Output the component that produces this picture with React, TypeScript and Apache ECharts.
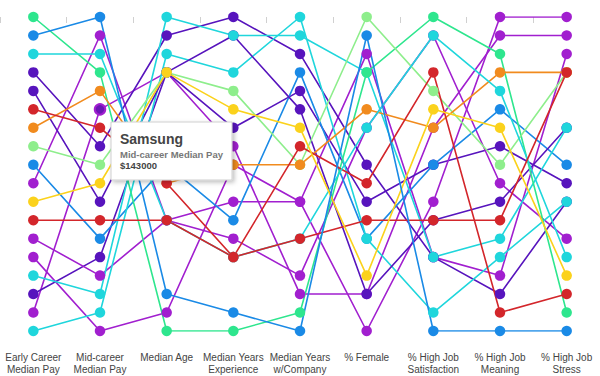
import { useEffect, useRef } from 'react';
import * as echarts from 'echarts';

const dimensions = [
  'Early Career\nMedian Pay',
  'Mid-career\nMedian Pay',
  'Median Age',
  'Median Years\nExperience',
  'Median Years\nw/Company',
  '% Female',
  '% High Job\nSatisfaction',
  '% High Job\nMeaning',
  '% High Job\nStress',
];

const companies = [
  'Company 1', 'Company 2', 'Company 3', 'Company 4', 'Company 5', 'Company 6',
  'Company 7', 'Company 8', 'Company 9', 'Company 10', 'Company 11', 'Company 12',
  'Company 13', 'Company 14', 'Company 15', 'Company 16', 'Samsung', 'Company 18',
];

const companyColors = [
  '#2ee68e', '#1a8ae6', '#1fd6dc', '#5714bd', '#5714bd', '#d3262b',
  '#f18b1e', '#8eee8c', '#1a8ae6', '#a11fcf', '#fbd21c', '#d3262b',
  '#a11fcf', '#a11fcf', '#1fd6dc', '#5714bd', '#a11fcf', '#1fd6dc',
];

// rank positions (0 = top row) of each company on each dimension
const earlyCareerRank = [0, 1, 2, 3, 4, 5, 6, 7, 8, 9, 10, 11, 12, 13, 14, 15, 16, 17];
const midCareerRank = [3, 0, 2, 7, 10, 6, 4, 8, 12, 1, 9, 11, 14, 17, 15, 13, 5, 16];
const medianAgeRank = [17, 15, 11, 1, 3, 9, 9, 3, 8, 11, 3, 11, 11, 16, 0, 3, 3, 2];
const yearsExperienceRank = [17, 16, 13, 0, 1, 13, 8, 4, 11, 12, 5, 13, 10, 8, 1, 6, 7, 3];
const yearsWithCompanyRank = [16, 17, 12, 2, 5, 7, 8, 8, 3, 14, 6, 12, 10, 10, 1, 4, 15, 0];
const femaleRank = [3, 1, 6, 8, 15, 9, 5, 0, 12, 6, 14, 11, 2, 17, 3, 10, 15, 12];
const satisfactionRank = [0, 17, 1, 13, 11, 3, 6, 4, 8, 1, 5, 11, 13, 10, 13, 8, 6, 16];
const meaningRank = [2, 17, 4, 15, 10, 16, 3, 8, 5, 9, 6, 11, 14, 0, 12, 7, 1, 13];
const stressRank = [16, 17, 13, 10, 6, 15, 3, 3, 8, 12, 14, 3, 2, 0, 6, 9, 1, 10];

const rankColumns = [
  earlyCareerRank, midCareerRank, medianAgeRank, yearsExperienceRank,
  yearsWithCompanyRank, femaleRank, satisfactionRank, meaningRank, stressRank,
];

// drawing order (later drawn on top)
const drawOrder = [16, 15, 13, 9, 12, 3, 8, 17, 4, 14, 0, 7, 6, 5, 2, 11, 10, 1];

const hoveredCompany = 16;
const hoveredDimension = 1;
const hoveredValue = 143000;

export default function App() {
  const ref = useRef<HTMLDivElement>(null);

  useEffect(() => {
    if (!ref.current) return;
    const chart = echarts.init(ref.current, undefined, { renderer: 'svg' });

    const lineSeries = drawOrder.map((c) => ({
      type: 'line',
      name: companies[c],
      data: rankColumns.map((col) => col[c]),
      symbol: 'none',
      silent: true,
      z: 2,
      lineStyle: { width: 1.6, color: companyColors[c] },
    }));

    const dotSeries = drawOrder.map((c) => ({
      type: 'scatter',
      name: companies[c] + ' points',
      symbol: 'circle',
      symbolSize: 10.5,
      z: 3,
      itemStyle: { color: companyColors[c], opacity: 1 },
      data: rankColumns.map((col, d) =>
        c === hoveredCompany && d === hoveredDimension
          ? {
              value: col[c],
              itemStyle: { color: '#6a16b4', borderColor: '#a11fcf', borderWidth: 2 },
            }
          : col[c]
      ),
    }));

    const tipTitle = companies[hoveredCompany];
    const tipLabel = dimensions[hoveredDimension].replace('\n', ' ');
    const tipValue = '$' + hoveredValue;

    chart.setOption({
      animation: false,
      grid: { left: -1.44, right: -0.44, top: 17, bottom: 44 },
      xAxis: {
        type: 'category',
        data: dimensions,
        boundaryGap: true,
        offset: 16,
        axisLine: { show: false },
        axisTick: { show: true, length: 6, lineStyle: { color: '#d0d0d0' } },
        axisLabel: {
          interval: 0,
          fontSize: 10,
          lineHeight: 12.5,
          margin: 4,
          color: '#444',
          fontFamily: 'Liberation Sans, Arial, sans-serif',
        },
        splitLine: { show: false },
      },
      yAxis: { type: 'value', inverse: true, min: 0, max: 17, show: false },
      series: [...lineSeries, ...dotSeries],
      graphic: [
        {
          type: 'rect',
          z: 100,
          zlevel: 0,
          shape: { x: 111, y: 122, width: 121, height: 58 },
          style: {
            fill: '#ffffff',
            stroke: '#cfcfcf',
            lineWidth: 1,
            shadowBlur: 4,
            shadowOffsetX: 2,
            shadowOffsetY: 2,
            shadowColor: 'rgba(0,0,0,0.25)',
          },
        },
        {
          type: 'text',
          z: 101,
          x: 120,
          y: 132,
          style: {
            text: tipTitle,
            fill: '#444',
            font: 'bold 14px "Liberation Sans", Arial, sans-serif',
          },
        },
        {
          type: 'text',
          z: 101,
          x: 120,
          y: 149.5,
          style: {
            text: tipLabel,
            fill: '#777',
            font: 'bold 9.5px "Liberation Sans", Arial, sans-serif',
          },
        },
        {
          type: 'text',
          z: 101,
          x: 120,
          y: 160,
          style: {
            text: tipValue,
            fill: '#444',
            font: 'bold 9.5px "Liberation Sans", Arial, sans-serif',
          },
        },
      ],
    });

    return () => chart.dispose();
  }, []);

  return (
    <div
      ref={ref}
      style={{ position: 'fixed', left: 0, top: 0, width: 600, height: 376, background: '#fff' }}
    />
  );
}
